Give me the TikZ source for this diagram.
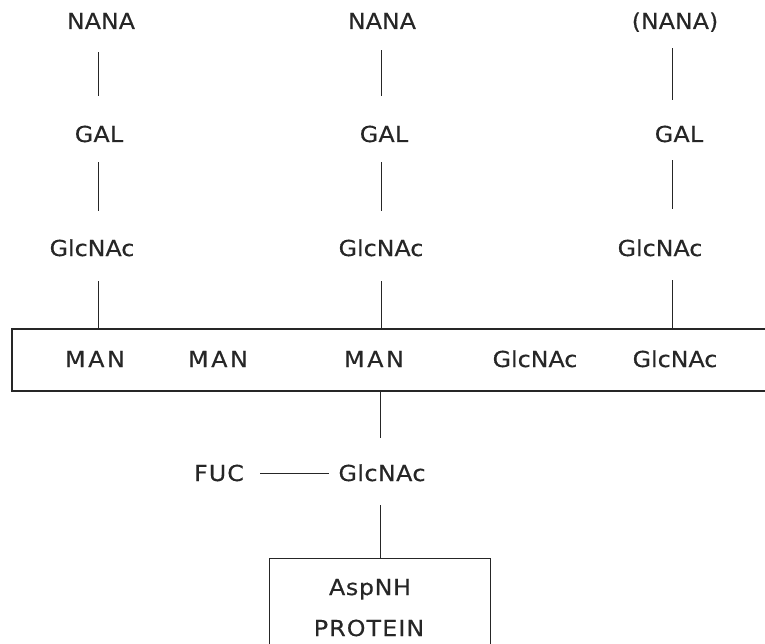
\documentclass[tikz,border=0pt]{standalone}
\usepackage{fontspec}
\setmainfont{DejaVu Sans}[FakeStretch=1.08, FakeBold=0.4]
\definecolor{ink}{HTML}{262626}
% label font: fixed size, adjustable tracking
\newcommand\labfont[1]{\fontsize{22pt}{26pt}\selectfont\addfontfeatures{LetterSpace=#1}}
\begin{document}
\begin{tikzpicture}[x=1pt,y=-1pt,
  sugar/.style={inner sep=0pt, text height=16pt, text depth=0pt, text=ink, font=\labfont{#1}},
  sugar/.default=0,
  link/.style={draw=ink, line width=0.9pt},
  corebox/.style={draw=ink, line width=2.4pt, inner sep=0pt, anchor=north west,
                  minimum width=780pt, minimum height=62pt},
  protbox/.style={draw=ink, line width=1.3pt, inner sep=0pt, anchor=north west,
                  minimum width=221pt, minimum height=130pt}]
\useasboundingbox (0,0) rectangle (765,644);

% column positions of the vertical links
\coordinate (colA) at (98,0);
\coordinate (colB) at (381,0);
\coordinate (colC) at (672,0);
\coordinate (colD) at (380,0);

% antennae
\node[sugar] (nanaA) at (101,21) {NANA};
\node[sugar] (nanaB) at (382,21) {NANA};
\node[sugar] (nanaC) at (675,21) {(NANA)};
\node[sugar=1] (galA) at (99,134) {GAL};
\node[sugar=1] (galB) at (384,134) {GAL};
\node[sugar=1] (galC) at (679,134) {GAL};
\node[sugar] (glcA) at (92,248) {GlcNAc};
\node[sugar] (glcB) at (381,248) {GlcNAc};
\node[sugar] (glcC) at (660,248) {GlcNAc};

% core
\node[corebox] (core) at (11,328) {};
\node[sugar=12] (manA) at (95,359) {MAN};
\node[sugar=12] (manB) at (218,359) {MAN};
\node[sugar=12] (manC) at (374,359) {MAN};
\node[sugar] (glcD) at (535,359) {GlcNAc};
\node[sugar] (glcE) at (675,359) {GlcNAc};

% fucosylated GlcNAc and protein
\node[sugar=5] (fuc) at (219,473) {FUC};
\node[sugar=2] (glcF) at (382,473) {GlcNAc};
\node[protbox] (prot) at (269,558) {};
\node[sugar=3] (asp) at (370,587) {AspNH};
\node[sugar=5] (protein) at (369,628) {PROTEIN};

% links, column A
\draw[link, shorten <=23pt, shorten >=30pt] (nanaA.south -| colA) -- (galA.north -| colA);
\draw[link, shorten <=20pt, shorten >=29pt] (galA.south -| colA) -- (glcA.north -| colA);
\draw[link, shorten <=25pt] (glcA.south -| colA) -- (core.north -| colA);
% column B
\draw[link, shorten <=21pt, shorten >=30pt] (nanaB.south -| colB) -- (galB.north -| colB);
\draw[link, shorten <=20pt, shorten >=29pt] (galB.south -| colB) -- (glcB.north -| colB);
\draw[link, shorten <=25pt] (glcB.south -| colB) -- (core.north -| colB);
% column C
\draw[link, shorten <=19pt, shorten >=26pt] (nanaC.south -| colC) -- (galC.north -| colC);
\draw[link, shorten <=18pt, shorten >=31pt] (galC.south -| colC) -- (glcC.north -| colC);
\draw[link, shorten <=24pt] (glcC.south -| colC) -- (core.north -| colC);
% trunk
\draw[link, shorten >=27pt] (core.south -| colD) -- (glcF.north -| colD);
\draw[link, shorten <=24pt] (glcF.south -| colD) -- (prot.north -| colD);
\draw[link, line width=0.8pt, shorten <=16pt, shorten >=9pt] (fuc.east) -- (glcF.west);
\end{tikzpicture}
\end{document}
